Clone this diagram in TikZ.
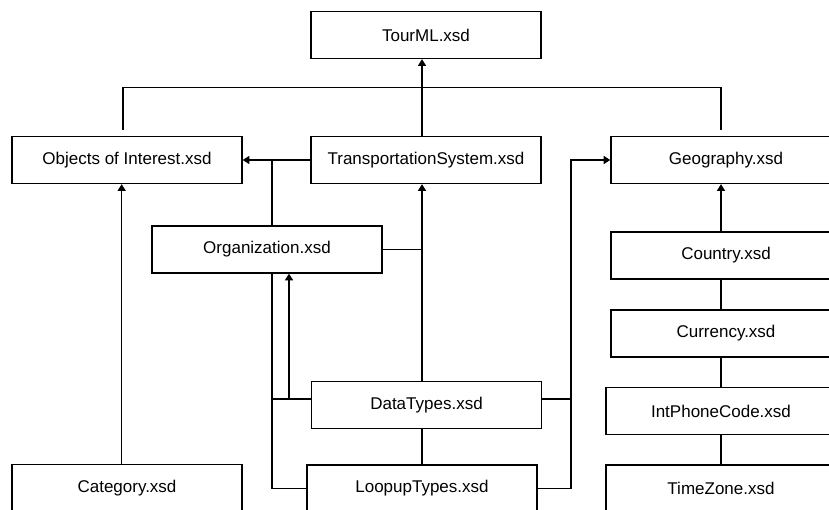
\documentclass[tikz,border=0pt]{standalone}
\usepackage{fontspec}
\setmainfont{Liberation Sans}
\usetikzlibrary{arrows.meta}

\begin{document}
\begin{tikzpicture}[x=0.75pt, y=-0.75pt, line width=1pt,
    every node/.style={draw, rectangle, line width=1pt, minimum width=230*0.75pt,
      minimum height=47*0.75pt, inner sep=0pt, font=\fontsize{12.75}{15}\selectfont},
    arr/.style={-{Triangle[width=6pt,length=5pt]}}]
    \useasboundingbox (0,0) rectangle (829,510);
    \clip (0,0) rectangle (829,510);

    % schema files
    \node (tourml) at (426,35) {TourML.xsd};
    \node (ooi) at (127,160) {Objects of Interest.xsd};
    \node (trans) at (426,160) {TransportationSystem.xsd};
    \node (geo) at (726,160) {Geography.xsd};
    \node (org) at (267,249.5) {Organization.xsd};
    \node (datatypes) at (426.5,405) {DataTypes.xsd};
    \node (loopup) at (422,488.5) {LoopupTypes.xsd};
    \node (category) at (127,488) {Category.xsd};
    \node (country) at (726,255.5) {Country.xsd};
    \node (currency) at (726,333.5) {Currency.xsd};
    \node (intphone) at (721,411) {IntPhoneCode.xsd};
    \node (timezone) at (721,488.5) {TimeZone.xsd};

    % vertical buses
    \coordinate (spine) at (422,0);
    \coordinate (lbus) at (272,160);
    \coordinate (rbus) at (571,0);
    \coordinate (gbus) at (721,0);
    \coordinate (dtw) at ([shift={(0,-6)}]datatypes.west);
    \coordinate (dte) at ([shift={(0,-6)}]datatypes.east);

    % top bracket
    \draw ([shift={(-4,-6)}]ooi.north) -- ++(0,-42) -| ([shift={(-5,-6)}]geo.north);
    \draw[arr] (spine |- trans.north) -- (spine |- tourml.south);

    % left side
    \draw[arr] (trans.west) -- (ooi.east);
    \draw (lbus) -- (lbus |- org.north);
    \draw (lbus |- org.south) |- (loopup.west);
    \draw (dtw) -- (dtw -| lbus);
    \draw[arr] (dtw -| 289,0) -- (org.south -| 289,0);
    \draw[arr] ([xshift=-4]category.north) -- ([xshift=-4]ooi.south);

    % middle
    \draw (org.east) -- (org.east -| spine);
    \draw[arr] (spine |- datatypes.north) -- (spine |- trans.south);
    \draw (spine |- datatypes.south) -- (spine |- loopup.north);

    % right bus to geography
    \draw (dte) -- (dte -| rbus);
    \draw[arr] (loopup.east) -| (rbus |- geo.west) -- (geo.west);

    % geography chain
    \draw[arr] (gbus |- country.north) -- (gbus |- geo.south);
    \draw (gbus |- country.south) -- (gbus |- currency.north);
    \draw (gbus |- currency.south) -- (gbus |- intphone.north);
    \draw (gbus |- intphone.south) -- (gbus |- timezone.north);
\end{tikzpicture}
\end{document}
